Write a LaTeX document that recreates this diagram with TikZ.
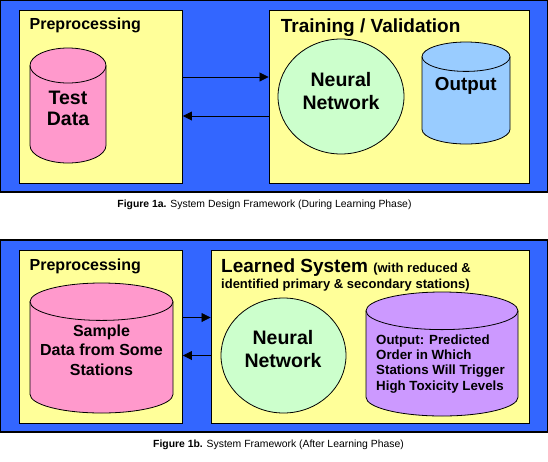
\documentclass[tikz,border=0pt]{standalone}
\usepackage{fontspec}
\setmainfont{Liberation Sans}
\usetikzlibrary{shapes.geometric,arrows.meta}
\definecolor{panelblue}{HTML}{3366FF}
\definecolor{boxyellow}{HTML}{FFFF99}
\definecolor{datapink}{HTML}{FF99CC}
\definecolor{netgreen}{HTML}{CCFFCC}
\definecolor{outblue}{HTML}{99CCFF}
\definecolor{outpurple}{HTML}{CC99FF}
% centre x, centre y, half width, half height, cap radius, colour
\newcommand{\drum}[6]{%
  \filldraw[fill=#6,line width=0.8pt] (#1-#3,#2-#4+#5) -- (#1-#3,#2+#4-#5)
    arc[start angle=180,end angle=360,x radius=#3pt,y radius=#5pt] -- (#1+#3,#2-#4+#5)
    arc[start angle=0,end angle=180,x radius=#3pt,y radius=#5pt] -- cycle;
  \draw[line width=0.8pt] (#1-#3,#2-#4+#5)
    arc[start angle=180,end angle=360,x radius=#3pt,y radius=#5pt];
}
\begin{document}
\begin{tikzpicture}[x=1pt,y=-1pt,
    panel/.style={draw,line width=1.2pt,fill=panelblue,inner sep=0pt},
    stage/.style={draw,line width=0.9pt,fill=boxyellow,inner sep=0pt},
    net/.style={ellipse,draw,line width=0.8pt,fill=netgreen,inner sep=0pt},
    flow/.style={line width=0.8pt,-{Triangle[length=9pt,width=9pt]}},
    head/.style={anchor=base west,inner sep=0pt,font=\bfseries\fontsize{16}{19}\selectfont},
    big/.style={anchor=base,inner sep=0pt,align=center,font=\bfseries\fontsize{19.5}{#1}\selectfont},
    caption/.style={anchor=base,inner sep=0pt,font=\fontsize{10.4}{12}\selectfont}]
    \path[fill=white,use as bounding box] (0,0) rectangle (548,461);

    % during learning phase
    \node[panel,minimum width=546.8pt,minimum height=191.4pt] (phaseA) at (274,96.3) {};
    \node[stage,minimum width=163.5pt,minimum height=173pt] (prepA) at (100.75,96.5) {};
    \node[stage,minimum width=260pt,minimum height=173pt] (trainA) at (399,96.5) {};
    \node[head] (prepAtitle) at (29.5,29.3) {Preprocessing};
    \node[head,font=\bfseries\fontsize{19}{22}\selectfont] (trainAtitle) at (280.7,32.3) {Training / Validation};
    \drum{68}{105.5}{38}{57.5}{17.5}{datapink}
    \node[big=21] (testtext) at (68,125) {Test\\Data};
    \node[net,minimum width=126pt,minimum height=115pt] (netA) at (341,96.5) {};
    \node[big=23] (netAtext) at (341,109) {Neural\\Network};
    \drum{466}{93}{44}{51}{14.7}{outblue}
    \node[big=21,font=\bfseries\fontsize{18.8}{21}\selectfont] (outAtext) at (465.7,90.7) {Output};
    \draw[flow] ([yshift=19.5pt]prepA.east) -- ([yshift=19.5pt]trainA.west);
    \draw[flow] ([yshift=-19.5pt]trainA.west) -- ([yshift=-19.5pt]prepA.east);
    \node[caption] (capA) at (264.5,207.3) {\textbf{Figure 1a.} System Design Framework (During Learning Phase)};

    % after learning phase
    \node[panel,minimum width=546.8pt,minimum height=192pt] (phaseB) at (274,336) {};
    \node[stage,minimum width=163.5pt,minimum height=173pt] (prepB) at (100.75,336.5) {};
    \node[stage,minimum width=318pt,minimum height=173pt] (learnB) at (370,336.5) {};
    \node[head] (prepBtitle) at (29.5,270) {Preprocessing};
    \node[head,font=\bfseries\fontsize{19}{22}\selectfont] (learnBtitle) at (221,272.7) {Learned System \fontsize{13}{15}\selectfont(with reduced \&};
    \node[head,font=\bfseries\fontsize{13}{15}\selectfont] (learnBnote) at (221,288.3) {identified primary \& secondary stations)};
    \drum{101.5}{348}{71.5}{65}{18.7}{datapink}
    \node[big=19.5,font=\bfseries\fontsize{16}{19.5}\selectfont] (sampletext) at (101.5,375.3) {Sample\\Data from Some\\Stations};
    \node[net,minimum width=125pt,minimum height=115pt] (netB) at (283.5,355.5) {};
    \node[big=23.5] (netBtext) at (283,367.7) {Neural\\Network};
    \drum{442}{354}{76}{62}{18.8}{outpurple}
    \node[head,align=left,font=\bfseries\fontsize{13.3}{15.3}\selectfont] (outBtext) at (376,390) {Output: Predicted\\Order in Which\\Stations Will Trigger\\High Toxicity Levels};
    \draw[flow] ([yshift=19pt]prepB.east) -- ([yshift=19pt]learnB.west);
    \draw[flow] ([yshift=-19pt]learnB.west) -- ([yshift=-19pt]prepB.east);
    \node[caption] (capB) at (278.5,447.3) {\textbf{Figure 1b.} System Framework (After Learning Phase)};
\end{tikzpicture}
\end{document}
